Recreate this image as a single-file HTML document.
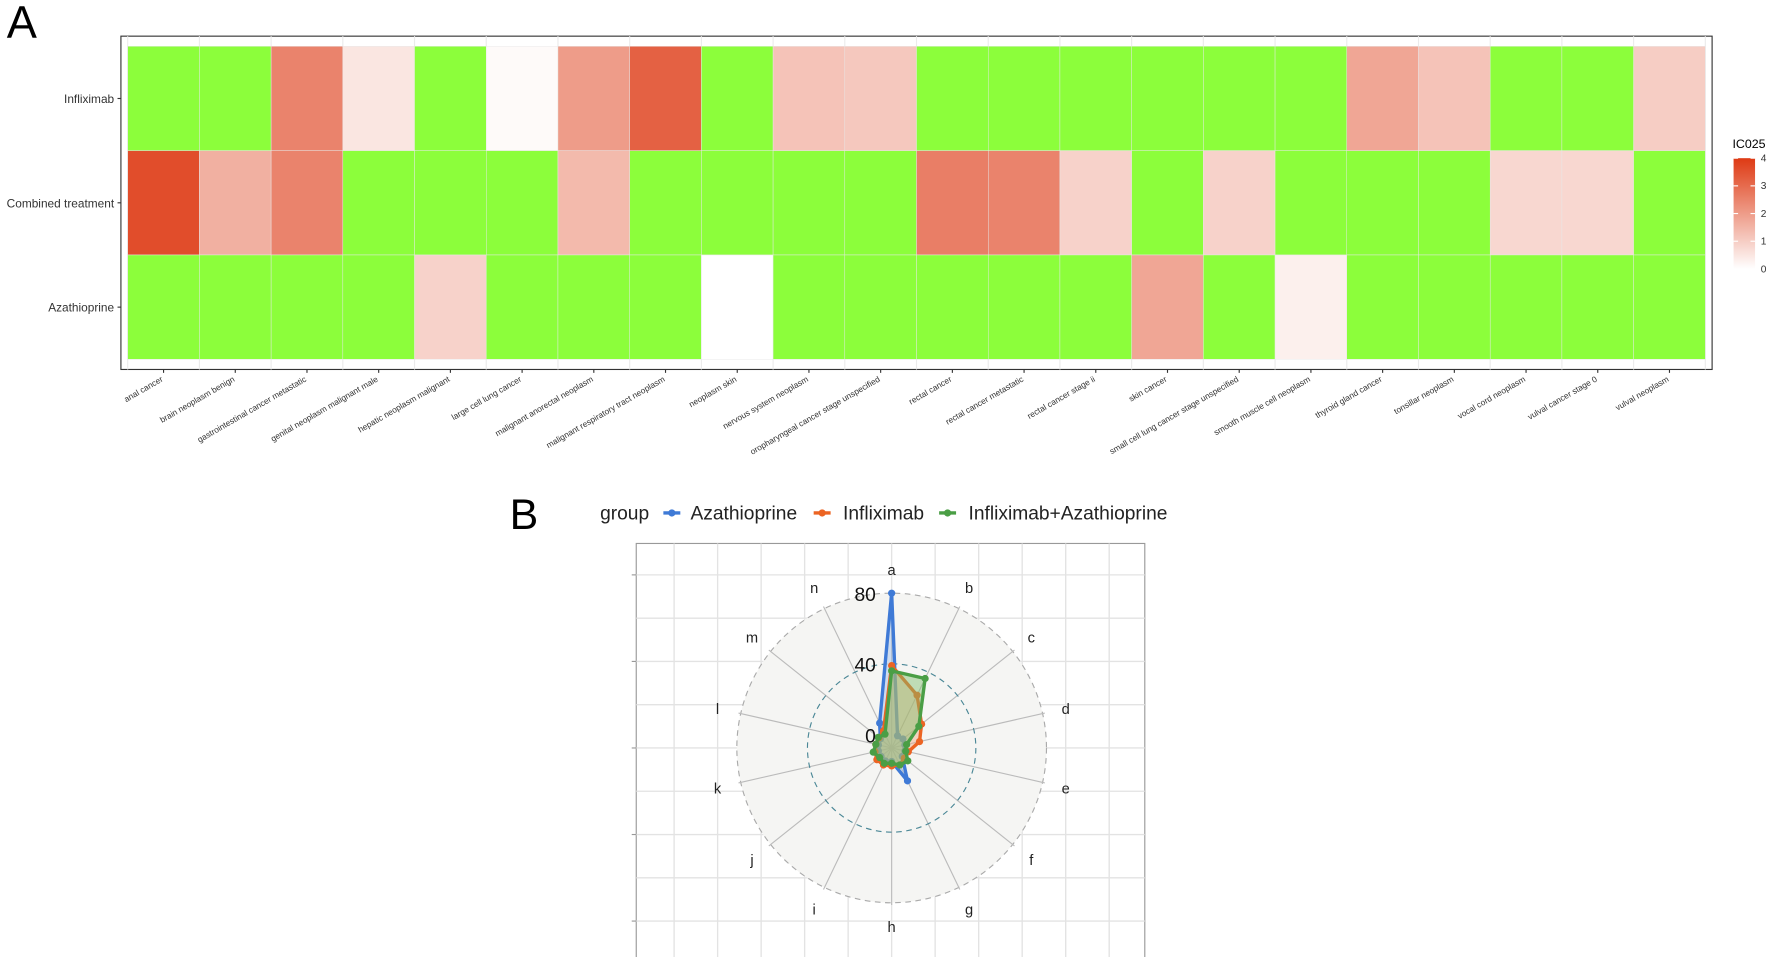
<!DOCTYPE html>
<html><head><meta charset="utf-8"><style>
html,body{margin:0;padding:0;background:#fff}
svg{display:block;font-family:"Liberation Sans",sans-serif}
</style></head><body>
<svg id="fig" width="1772" height="957" viewBox="0 0 1568 847" preserveAspectRatio="none" xmlns="http://www.w3.org/2000/svg">
<rect width="1568" height="847" fill="#fff"/>
<text x="6" y="33" font-size="40">A</text>
<g id="heat"></g>
<g id="legendA"></g>
<text x="451" y="468" font-size="38">B</text>
<g id="radar"></g>
<g id="legendB"></g>
</svg>
<script>
const categories=["anal cancer","brain neoplasm benign","gastrointestinal cancer metastatic","genital neoplasm malignant male","hepatic neoplasm malignant","large cell lung cancer","malignant anorectal neoplasm","malignant respiratory tract neoplasm","neoplasm skin","nervous system neoplasm","oropharyngeal cancer stage unspecified","rectal cancer","rectal cancer metastatic","rectal cancer stage ii","skin cancer","small cell lung cancer stage unspecified","smooth muscle cell neoplasm","thyroid gland cancer","tonsillar neoplasm","vocal cord neoplasm","vulval cancer stage 0","vulval neoplasm"];
const rows=["Infliximab","Combined treatment","Azathioprine"];
const infliximabIC=[null,null,2.5,0.5,null,0.1,2.0,3.2,null,1.2,1.1,null,null,null,null,null,null,1.8,1.2,null,null,1.0];
const combinedIC=[3.6,1.6,2.5,null,null,null,1.4,null,null,null,null,2.6,2.5,0.9,null,0.9,null,null,null,0.8,0.8,null];
const azathioprineIC=[null,null,null,null,0.9,null,null,null,0,null,null,null,null,null,1.8,null,0.3,null,null,null,null,null];
const legendTicks=[0,1,2,3,4];

const radarAxes=["a","b","c","d","e","f","g","h","i","j","k","l","m","n"];
const radarTicks=[0,40,80];
const groups=["Azathioprine","Infliximab","Infliximab+Azathioprine"];
const azaVals=[80,0,0.5,0,0,0,13,0,0.5,0,0,0,0.5,8];
const infVals=[39,25.5,14,8.5,2,1.5,3,2.5,3,3,2,1.5,1.5,3];
const comVals=[36,36,12,1,0.5,4,3,1,2,1,3,1.5,2,1];

const NS="http://www.w3.org/2000/svg";
function mk(tag,attrs,parent,txt){const e=document.createElementNS(NS,tag);for(const k in attrs)e.setAttribute(k,attrs[k]);if(txt!==undefined)e.textContent=txt;parent.appendChild(e);return e;}
const GREEN="#8cfe3b";
function heatColor(v){const t=Math.max(0,Math.min(1,v/4));const r=255+(222-255)*t,g=255+(58-255)*t,b=255+(20-255)*t;return `rgb(${r|0},${g|0},${b|0})`;}

// heatmap
const heat=document.getElementById('heat');
const px0=113,px1=1509,py0=41,py1=318;
const cw=(px1-px0)/categories.length, rh=(py1-py0)/rows.length;
const xS=i=>px0+i*cw, yS=j=>py0+j*rh;
const frame=mk('rect',{x:107,y:32,width:1408,height:295,fill:'#fff',stroke:'#333','stroke-width':1},heat);


for(let i=0;i<=categories.length;i++){const l=mk('line',{x1:xS(i),x2:xS(i),y1:32,y2:327,stroke:'#ebebeb'},heat);}
const series=[infliximabIC,combinedIC,azathioprineIC];
series.forEach((arr,j)=>{arr.forEach((v,i)=>{
 const c=mk('rect',{x:xS(i),y:yS(j),width:cw,height:rh,fill:v===null?GREEN:heatColor(v),stroke:'#e8e8e8','stroke-width':0.4},heat);
 
 
});});
rows.forEach((r,j)=>{const y=yS(j)+rh/2;
 const t=mk('text',{x:101,y:y+4,'font-size':10.5,'text-anchor':'end',fill:'#333'},heat,r);
 
 mk('line',{x1:104,x2:107,y1:y,y2:y,stroke:'#333'},heat);
});
categories.forEach((c,i)=>{const x=xS(i)+cw/2;
 mk('line',{x1:x,x2:x,y1:327,y2:330,stroke:'#333'},heat);
 const t=mk('text',{x:x,y:337,'font-size':7.4,'text-anchor':'end',fill:'#333',transform:`rotate(-30 ${x} 337)`},heat,c);
 
});
// legend A
const lg=document.getElementById('legendA');
mk('text',{x:1533,y:131,'font-size':11},lg,'IC025');
const defs=mk('defs',{},lg);const gr=mk('linearGradient',{id:'icg',x1:0,y1:1,x2:0,y2:0},defs);
for(let k=0;k<=4;k++)mk('stop',{offset:k/4,'stop-color':heatColor(k)},gr);
const lb0=238,lb1=140;
const bar=mk('rect',{x:1534,y:lb1,width:19,height:lb0-lb1,fill:'url(#icg)'},lg);

legendTicks.forEach(v=>{const y=lb0+(lb1-lb0)*v/4;
 mk('line',{x1:1534,x2:1538,y1:y,y2:y,stroke:'#fff'},lg);mk('line',{x1:1549,x2:1553,y1:y,y2:y,stroke:'#fff'},lg);
 mk('text',{x:1558,y:y+3,'font-size':9,fill:'#333'},lg,String(v));});

// radar
const rd=document.getElementById('radar');
const cx=789,cy=662;
const rS=v=>12+Math.max(v,-7)*125/80;
const pnl=mk('rect',{x:563,y:481,width:450,height:370,fill:'#fff',stroke:'#999','stroke-width':1},rd);

for(let k=-5;k<=5;k++){const x=cx+k*38.5;mk('line',{x1:x,x2:x,y1:481,y2:847,stroke:'#e3e3e3','stroke-width':1.2},rd);}
for(let k=-4;k<=4;k++){const y=cy+k*38.3;mk('line',{x1:563,x2:1013,y1:y,y2:y,stroke:'#e3e3e3','stroke-width':1.2},rd);}
for(let k=-4;k<=4;k+=2){const y=cy+k*38.3;mk('line',{x1:559,x2:563,y1:y,y2:y,stroke:'#999'},rd);}
mk('circle',{cx,cy,r:rS(80),fill:'#f5f5f3',stroke:'#aaa','stroke-dasharray':'5 4','stroke-width':1},rd);
const ang=i=>(i/radarAxes.length)*2*Math.PI;
radarAxes.forEach((a,i)=>{const t=ang(i);
 mk('line',{x1:cx,y1:cy,x2:cx+Math.sin(t)*139,y2:cy-Math.cos(t)*139,stroke:'#bbb','stroke-width':1},rd);
 const l=mk('text',{x:cx+Math.sin(t)*158,y:cy-Math.cos(t)*158+5,'font-size':13,'text-anchor':'middle',fill:'#222'},rd,a);
 
});
mk('circle',{cx,cy,r:rS(40),fill:'none',stroke:'#4a8796','stroke-dasharray':'5 4','stroke-width':1},rd);
const colors=["#3f7ad6","#ec6423","#4a9e45"];
const fills=["#9fbfe8","#f2a982","#7fbf6a"];
[azaVals,infVals,comVals].forEach((vals,s)=>{
 const pts=vals.map((v,i)=>{const t=ang(i);return [cx+Math.sin(t)*rS(v),cy-Math.cos(t)*rS(v)];});
 const p=mk('polygon',{points:pts.map(q=>q.join(',')).join(' '),fill:fills[s],'fill-opacity':0.45,stroke:colors[s],'stroke-width':3,'stroke-linejoin':'round'},rd);
 
 
 pts.forEach(q=>{const c=mk('circle',{cx:q[0],cy:q[1],r:3.2,fill:colors[s]},rd);});
});
radarTicks.forEach(v=>{const t=mk('text',{x:cx-14,y:cy-rS(v)+7,'font-size':17,'text-anchor':'end',fill:'#111'},rd,String(v));
 });

// legend B
const lB=document.getElementById('legendB');
mk('text',{x:531,y:460,'font-size':17,fill:'#222'},lB,'group');
const keyX=[587,720,831],txtX=[611,746,857];
groups.forEach((g,s)=>{
 mk('line',{x1:keyX[s],x2:keyX[s]+15,y1:454,y2:454,stroke:colors[s],'stroke-width':3},lB);
 mk('circle',{cx:keyX[s]+7.5,cy:454,r:3.2,fill:colors[s]},lB);
 const t=mk('text',{x:txtX[s],y:460,'font-size':17,fill:'#222'},lB,g);
 
});
</script>
</body></html>
